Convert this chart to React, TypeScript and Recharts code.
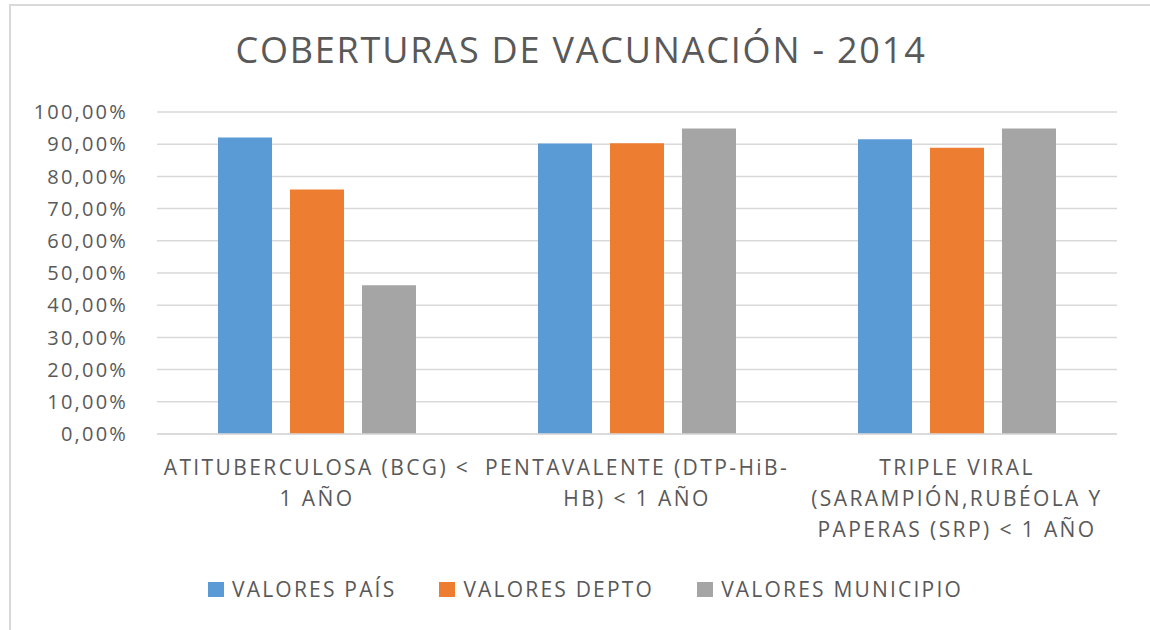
import React from 'react';
import { BarChart, Bar, XAxis, YAxis, CartesianGrid, Legend } from 'recharts';

const categoryLines = [
  ['ATITUBERCULOSA (BCG) <', '1 AÑO'],
  ['PENTAVALENTE (DTP-HiB-', 'HB) < 1 AÑO'],
  ['TRIPLE VIRAL', '(SARAMPIÓN,RUBÉOLA Y', 'PAPERAS (SRP) < 1 AÑO'],
];
const categories = categoryLines.map((l) => l.join(' '));

const valoresPais = [92.1, 90.2, 91.5];
const valoresDepto = [75.9, 90.3, 88.9];
const valoresMunicipio = [46.2, 94.9, 94.9];

const seriesNames = ['VALORES PAÍS', 'VALORES DEPTO', 'VALORES MUNICIPIO'];
const seriesColors = ['#5B9BD5', '#ED7D31', '#A5A5A5'];

const yTicks = [0, 10, 20, 30, 40, 50, 60, 70, 80, 90, 100];

const data = categories.map((name, i) => ({
  name,
  pais: valoresPais[i],
  depto: valoresDepto[i],
  municipio: valoresMunicipio[i],
}));
const keys = ['pais', 'depto', 'municipio'];

const FONT = '"Open Sans", sans-serif';
const TEXT = '#595959';

const CategoryTick = (props: any) => {
  const { x, y, payload } = props;
  const lines = categoryLines[payload.index] || [];
  return (
    <g>
      {lines.map((line, i) => (
        <text
          key={i}
          x={x}
          y={y + 33 + i * 31}
          textAnchor="middle"
          fill={TEXT}
          fontSize={21}
          fontFamily={FONT}
          letterSpacing={2.4}
        >
          {line}
        </text>
      ))}
    </g>
  );
};

const LegendContent = () => (
  <div style={{ height: 40, display: 'flex', alignItems: 'flex-start', paddingLeft: 208 }}>
    {seriesNames.map((name, i) => (
      <div key={name} style={{ display: 'flex', alignItems: 'center', marginRight: 43 }}>
        <span style={{ width: 16, height: 15, background: seriesColors[i], marginRight: 8, display: 'inline-block' }} />
        <span style={{ fontFamily: FONT, fontSize: 21, color: TEXT, letterSpacing: 2.2, lineHeight: '28px' }}>{name}</span>
      </div>
    ))}
  </div>
);

export default function App() {
  return (
    <div style={{ position: 'absolute', left: 0, top: 0, width: 1150, height: 630, background: '#fff', overflow: 'hidden' }}>
      <div style={{ position: 'absolute', left: 9, top: 4, width: 1200, height: 700, borderLeft: '2px solid #d9d9d9', borderTop: '2px solid #d9d9d9' }} />
      <div
        style={{
          position: 'absolute',
          left: 0,
          width: 1162,
          top: 25,
          textAlign: 'center',
          fontFamily: FONT,
          fontSize: 36,
          color: TEXT,
          letterSpacing: 1.8,
        }}
      >
        COBERTURAS DE VACUNACIÓN - 2014
      </div>
      <div style={{ position: 'absolute', left: 0, top: 0 }}>
        <BarChart
          width={1150}
          height={630}
          data={data}
          margin={{ top: 112, right: 33, left: 0, bottom: 0 }}
          barSize={54}
          barGap={18}
        >
          <CartesianGrid horizontal vertical={false} stroke="#d9d9d9" strokeWidth={1.5} />
          <XAxis
            dataKey="name"
            height={156}
            tickLine={false}
            axisLine={{ stroke: '#d9d9d9', strokeWidth: 1.5 }}
            interval={0}
            tick={<CategoryTick />}
          />
          <YAxis
            width={157}
            domain={[0, 100]}
            ticks={yTicks}
            tickLine={false}
            axisLine={false}
            tickSize={0}
            tickMargin={29}
            tick={{ fill: TEXT, fontSize: 20, fontFamily: FONT, letterSpacing: 2.2 }}
            tickFormatter={(v: number) => v.toFixed(2).replace('.', ',') + '%'}
          />
          <Legend
            verticalAlign="bottom"
            content={<LegendContent />}
            wrapperStyle={{ top: 575, bottom: 'auto', left: 0, width: 1150 }}
          />
          {keys.map((k, i) => (
            <Bar key={k} dataKey={k} name={seriesNames[i]} fill={seriesColors[i]} isAnimationActive={false} />
          ))}
        </BarChart>
      </div>
    </div>
  );
}
